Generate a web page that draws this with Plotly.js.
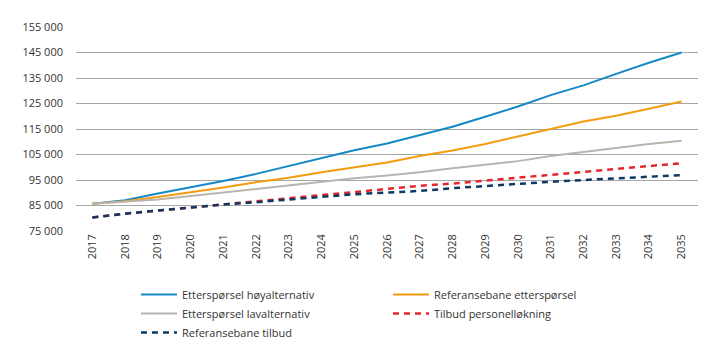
<!DOCTYPE html>
<html>
<head>
<meta charset="utf-8">
<script src="https://cdn.plot.ly/plotly-3.0.1.min.js"></script>
<style>html,body{margin:0;padding:0;background:#fff;}#chart{width:719px;height:362px;}</style>
</head>
<body>
<div id="chart"></div>
<script>
const years = ["2017","2018","2019","2020","2021","2022","2023","2024","2025","2026","2027","2028","2029","2030","2031","2032","2033","2034","2035"];
const hoyalternativ = [85700,87100,89700,92100,94600,97400,100500,103500,106700,109300,112500,115900,119800,123800,128300,132100,136600,141000,145000];
const referanseEttersporsel = [85700,86700,88300,90100,92100,94100,95900,98000,99900,101900,104400,106600,109100,111900,115000,117900,120200,122900,125800];
const lavalternativ = [85700,86500,87400,88700,90100,91400,93000,94300,95700,96800,98000,99600,101000,102400,104400,106000,107500,109100,110400];
const tilbudPersonell = [80300,81800,83000,84200,85400,86700,87800,89000,90300,91500,92700,93600,94700,95900,97100,98300,99300,100400,101600];
const referanseTilbud = [80300,81800,83000,84200,85400,86300,87400,88300,89400,90100,90700,91800,92700,93600,94300,95000,95600,96400,96900];
const yTickVals = [75000,85000,95000,105000,115000,125000,135000,145000,155000];
const yTickText = ["75 000","85 000","95 000","105 000","115 000","125 000","135 000","145 000","155 000"];

const names = ["Etterspørsel høyalternativ","Referansebane etterspørsel","Etterspørsel lavalternativ","Tilbud personelløkning","Referansebane tilbud"];
const series = [hoyalternativ, referanseEttersporsel, lavalternativ, tilbudPersonell, referanseTilbud];
const colors = ["#1589c6","#f39c12","#b9b5ae","#e3262b","#0d3a63"];
const dashes = ["solid","solid","solid","6px,5px","6px,5px"];
const widths = [2,2,2,2.5,2.5];

const traces = series.map((s,i)=>({
  x: years, y: s, name: names[i], type: "scatter", mode: "lines",
  line: {color: colors[i], width: widths[i], dash: dashes[i]}
}));

const layout = {
  width: 719, height: 362,
  margin: {l: 76, r: 21, t: 27, b: 131, autoexpand: false},
  paper_bgcolor: "#fff", plot_bgcolor: "#fff",
  font: {family: "Open Sans, sans-serif", size: 11, color: "#333"},
  showlegend: true,
  xaxis: {
    type: "category", range: [-0.5, 18.5], tickangle: -90, automargin: false,
    showgrid: false, zeroline: false, showline: false, ticks: "",
    tickfont: {size: 11, color: "#333"}, fixedrange: true
  },
  yaxis: {
    range: [75000, 155000], tickvals: yTickVals, ticktext: yTickText, automargin: false,
    showgrid: true, gridcolor: "#a6a6a6", gridwidth: 1, zeroline: false,
    showline: false, ticks: "", ticklabelstandoff: 12,
    tickfont: {size: 11, color: "#333"}, fixedrange: true
  },
  legend: {
    orientation: "h", x: 0.0964, xanchor: "left", y: -0.24, yanchor: "top",
    entrywidth: 201, entrywidthmode: "pixels", itemwidth: 36,
    font: {size: 11, color: "#333"}, traceorder: "normal", tracegroupgap: 0
  }
};
Plotly.newPlot("chart", traces, layout, {displayModeBar: false, staticPlot: true});
</script>
</body>
</html>
